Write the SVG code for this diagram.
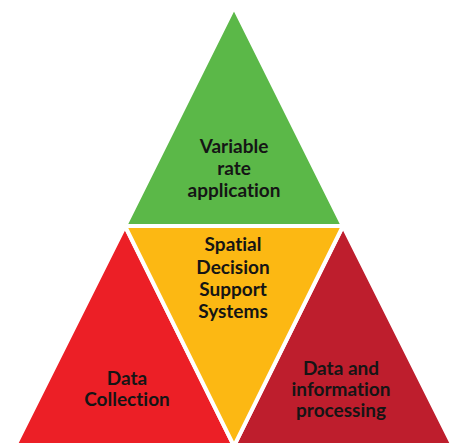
<svg xmlns="http://www.w3.org/2000/svg" width="457" height="443" viewBox="0 0 457 443">
  <style>
    .tri { stroke: #ffffff; stroke-width: 4; stroke-linejoin: miter; }
    .label { font-family: Lato, "Open Sans", "Liberation Sans", sans-serif; font-weight: bold; font-size: 19px; fill: #151515; text-anchor: middle; font-variant-ligatures: none; }
  </style>
  <rect width="457" height="443" fill="#ffffff"/>

  <!-- top: variable rate application -->
  <g id="variable-rate">
    <polygon class="tri" fill="#5BB848" points="234,7 125,226 343,226"/>
    <text class="label" x="234" y="153">Variable</text>
    <text class="label" x="234" y="175">rate</text>
    <text class="label" x="234" y="197">application</text>
  </g>

  <!-- bottom left: data collection -->
  <g id="data-collection">
    <polygon class="tri" fill="#EC1F26" points="125,226 15,446 234,446"/>
    <text class="label" x="127" y="385">Data</text>
    <text class="label" x="127" y="406">Collection</text>
  </g>

  <!-- bottom right: data and information processing -->
  <g id="data-processing">
    <polygon class="tri" fill="#BE1E2D" points="343,226 234,446 453,446"/>
    <text class="label" x="341" y="375">Data and</text>
    <text class="label" x="341" y="396">information</text>
    <text class="label" x="341" y="417">processing</text>
  </g>

  <!-- centre: spatial decision support systems -->
  <g id="sdss">
    <polygon class="tri" fill="#FCB813" points="125,226 343,226 234,446"/>
    <text class="label" x="233" y="251">Spatial</text>
    <text class="label" x="233" y="274">Decision</text>
    <text class="label" x="233" y="296">Support</text>
    <text class="label" x="233" y="318">Systems</text>
  </g>
</svg>
